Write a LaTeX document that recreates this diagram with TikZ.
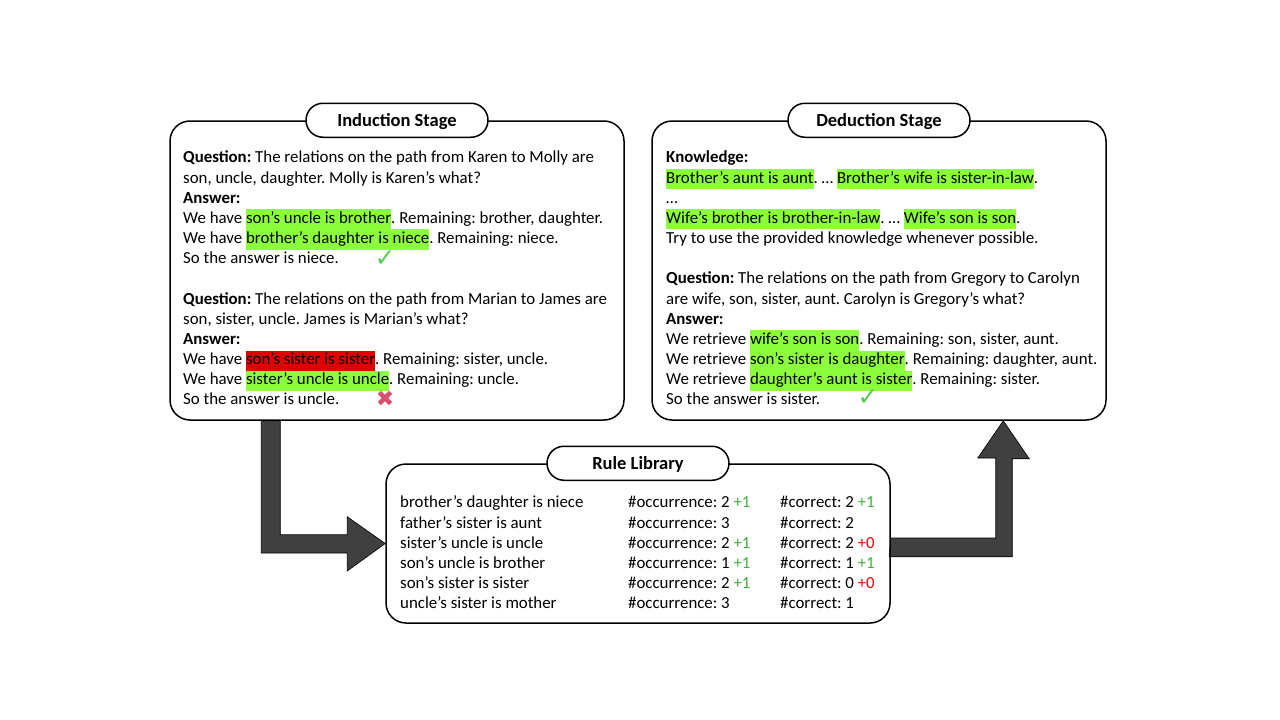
\documentclass[tikz,border=0pt]{standalone}
\usepackage{fontspec}
\setmainfont{Carlito}
\newfontfamily\symfont{DejaVu Sans}
\usetikzlibrary{calc,backgrounds}
\frenchspacing
\definecolor{hlgreen}{HTML}{8CFF3C}
\definecolor{hlred}{HTML}{E00000}
\definecolor{okgreen}{HTML}{5CC85C}
\definecolor{badred}{HTML}{D9506E}
\definecolor{plusgreen}{HTML}{3FAF3F}
\definecolor{plusred}{HTML}{FF0000}
\definecolor{arrowgray}{HTML}{404040}
\newcommand{\hlg}[1]{{\setlength{\fboxsep}{0pt}\colorbox{hlgreen}{\strut #1}}}
\newcommand{\hlr}[1]{{\setlength{\fboxsep}{0pt}\colorbox{hlred}{\strut #1}}}
\newcommand{\plusg}[1]{\textcolor{plusgreen}{#1}}
\newcommand{\plusr}[1]{\textcolor{plusred}{#1}}
\tikzstyle{stagebox} = [
    draw,
    line width=1.5pt,
    rounded corners=20pt,
    minimum width=454pt,
    minimum height=299pt,
    inner sep=0pt
    ]
\tikzstyle{stagetitle} = [
    draw,
    fill=white,
    line width=1.5pt,
    rounded corners=17pt,
    minimum width=182pt,
    minimum height=34pt,
    text height=12pt,
    text depth=0pt,
    font=\fontsize{18.5}{20}\selectfont\bfseries
    ]
\tikzstyle{bodytext} = [
    anchor=north west,
    inner sep=0pt,
    align=left,
    font=\fontsize{16.85}{20.17}\selectfont
    ]
\tikzstyle{bigarrow} = [fill=arrowgray, draw=black, line width=0.6pt]
\tikzstyle{checkglyph} = [text=okgreen, font=\symfont\fontsize{25}{25}\selectfont, inner sep=0pt]
\tikzstyle{crossglyph} = [text=badred, font=\symfont\fontsize{22}{22}\selectfont, inner sep=0pt]

\begin{document}
\begin{tikzpicture}[x=1pt,y=-1pt]
\useasboundingbox (0,0) rectangle (1280,720);
% the three boxes
\node[stagebox] (ind) at (397,270.5) {};
\node[stagebox] (ded) at (879,270.5) {};
\node[stagebox, minimum width=504pt, minimum height=159pt] (rule) at (638,543.5) {};
\node[stagetitle] (indtitle) at (ind.north) {Induction Stage};
\node[stagetitle] (dedtitle) at (ded.north) {Deduction Stage};
\node[stagetitle] (ruletitle) at (rule.north) {Rule Library};

\node[bodytext] (indtext) at (183,148.6) {%
\strut\textbf{Question:} The relations on the path from Karen to Molly are\\
son, uncle, daughter. Molly is Karen's what?\\
\textbf{Answer:}\\
We have \hlg{son's uncle is brother}. Remaining: brother, daughter.\\
We have \hlg{brother's daughter is niece}. Remaining: niece.\\
So the answer is niece.\\
\strut\\
\textbf{Question:} The relations on the path from Marian to James are\\
son, sister, uncle. James is Marian's what?\\
\textbf{Answer:}\\
We have \hlr{son's sister is sister}. Remaining: sister, uncle.\\
We have \hlg{sister's uncle is uncle}. Remaining: uncle.\\
So the answer is uncle.};

\node[bodytext] (dedtext) at (666,148.6) {%
\strut\textbf{Knowledge:}\\
\hlg{Brother's aunt is aunt}. … \hlg{Brother's wife is sister-in-law}.\\
…\\
\hlg{Wife's brother is brother-in-law}. … \hlg{Wife's son is son}.\\
Try to use the provided knowledge whenever possible.\\
\strut\\
\textbf{Question:} The relations on the path from Gregory to Carolyn\\
are wife, son, sister, aunt. Carolyn is Gregory's what?\\
\textbf{Answer:}\\
We retrieve \hlg{wife's son is son}. Remaining: son, sister, aunt.\\
We retrieve \hlg{son's sister is daughter}. Remaining: daughter, aunt.\\
We retrieve \hlg{daughter's aunt is sister}. Remaining: sister.\\
So the answer is sister.};

\node[checkglyph] (indok) at (385,259) {✓};
\node[crossglyph] (indbad) at (385,399) {✖};
\node[checkglyph] (dedok) at (868,398) {✓};

% rule library columns
\node[bodytext] (rulename) at (400,493.6) {%
\strut brother's daughter is niece\\
father's sister is aunt\\
sister's uncle is uncle\\
son's uncle is brother\\
son's sister is sister\\
uncle's sister is mother};
\node[bodytext] (rulecount) at (628,493.6) {%
\strut\#occurrence: 2 \plusg{+1}\\
\#occurrence: 3\\
\#occurrence: 2 \plusg{+1}\\
\#occurrence: 1 \plusg{+1}\\
\#occurrence: 2 \plusg{+1}\\
\#occurrence: 3};
\node[bodytext] (rulecorrect) at (780,493.6) {%
\strut\#correct: 2 \plusg{+1}\\
\#correct: 2\\
\#correct: 2 \plusr{+0}\\
\#correct: 1 \plusg{+1}\\
\#correct: 0 \plusr{+0}\\
\#correct: 1};

% bent arrows between the stages
\begin{pgfonlayer}{background}
\draw[bigarrow] ($(ind.south west)+(92,0)$) -- ++(19,0) -- ++(0,114) -- ++(67,0)
    -- ++(0,-18) -- (rule.west) -- ++(-38,27.5) -- ++(0,-18) -- ++(-86,0) -- cycle;
\draw[bigarrow] ($(rule.east)+(0,-5.5)$) -- ++(105,0) -- ++(0,-80) -- ++(-18,0)
    -- ($(ded.south west)+(352,0)$) -- ++(26,38) -- ++(-17,0) -- ++(0,98) -- ++(-123,0) -- cycle;
\end{pgfonlayer}
\end{tikzpicture}
\end{document}
